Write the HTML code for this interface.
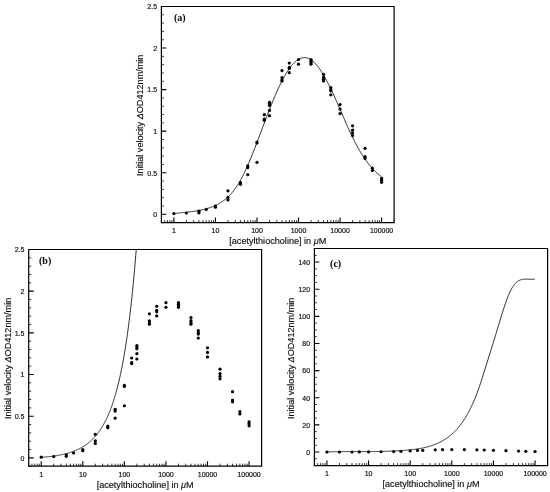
<!DOCTYPE html>
<html><head><meta charset="utf-8"><style>
html,body{margin:0;padding:0;background:#fff;}
svg{display:block;filter:blur(0.3px);}
.tl{font-family:"Liberation Sans",sans-serif;font-size:7px;fill:#111;stroke:#111;stroke-width:0.18px;}
.at{font-family:"Liberation Sans",sans-serif;font-size:9.1px;fill:#111;stroke:#111;stroke-width:0.15px;}
.pl{font-family:"Liberation Serif",serif;font-size:10px;font-weight:bold;fill:#000;}
</style></head><body>
<svg width="550" height="492" viewBox="0 0 550 492">
<rect width="550" height="492" fill="#fff"/>
<path d="M161.4,6.5 H394.1 V222.6 H161.4 Z" fill="none" stroke="#000" stroke-width="1.2"/>
<path d="M161.4,214.29 h5 M161.4,172.73 h5 M161.4,131.17 h5 M161.4,89.62 h5 M161.4,48.06 h5 M161.4,6.50 h5 M173.90,222.6 v-5 M215.44,222.6 v-5 M256.98,222.6 v-5 M298.52,222.6 v-5 M340.06,222.6 v-5 M381.60,222.6 v-5" stroke="#000" stroke-width="1.1" fill="none"/>
<path d="M161.4,222.60 h2.5 M161.4,205.98 h2.5 M161.4,197.67 h2.5 M161.4,189.35 h2.5 M161.4,181.04 h2.5 M161.4,164.42 h2.5 M161.4,156.11 h2.5 M161.4,147.80 h2.5 M161.4,139.48 h2.5 M161.4,122.86 h2.5 M161.4,114.55 h2.5 M161.4,106.24 h2.5 M161.4,97.93 h2.5 M161.4,81.30 h2.5 M161.4,72.99 h2.5 M161.4,64.68 h2.5 M161.4,56.37 h2.5 M161.4,39.75 h2.5 M161.4,31.43 h2.5 M161.4,23.12 h2.5 M161.4,14.81 h2.5 M161.40,222.6 v-2.5 M164.69,222.6 v-2.5 M167.47,222.6 v-2.5 M169.88,222.6 v-2.5 M172.00,222.6 v-2.5 M186.41,222.6 v-2.5 M193.72,222.6 v-2.5 M198.91,222.6 v-2.5 M202.94,222.6 v-2.5 M206.23,222.6 v-2.5 M209.01,222.6 v-2.5 M211.42,222.6 v-2.5 M213.54,222.6 v-2.5 M227.95,222.6 v-2.5 M235.26,222.6 v-2.5 M240.45,222.6 v-2.5 M244.48,222.6 v-2.5 M247.77,222.6 v-2.5 M250.55,222.6 v-2.5 M252.96,222.6 v-2.5 M255.08,222.6 v-2.5 M269.49,222.6 v-2.5 M276.80,222.6 v-2.5 M281.99,222.6 v-2.5 M286.01,222.6 v-2.5 M289.30,222.6 v-2.5 M292.08,222.6 v-2.5 M294.49,222.6 v-2.5 M296.62,222.6 v-2.5 M311.02,222.6 v-2.5 M318.34,222.6 v-2.5 M323.53,222.6 v-2.5 M327.55,222.6 v-2.5 M330.84,222.6 v-2.5 M333.62,222.6 v-2.5 M336.03,222.6 v-2.5 M338.16,222.6 v-2.5 M352.56,222.6 v-2.5 M359.88,222.6 v-2.5 M365.07,222.6 v-2.5 M369.09,222.6 v-2.5 M372.38,222.6 v-2.5 M375.16,222.6 v-2.5 M377.57,222.6 v-2.5 M379.70,222.6 v-2.5 M394.10,222.6 v-2.5" stroke="#111" stroke-width="0.85" fill="none"/>
<text x="157.10" y="217.14" class="tl" text-anchor="end">0</text>
<text x="157.10" y="175.58" class="tl" text-anchor="end">0.5</text>
<text x="157.10" y="134.02" class="tl" text-anchor="end">1</text>
<text x="157.10" y="92.47" class="tl" text-anchor="end">1.5</text>
<text x="157.10" y="50.91" class="tl" text-anchor="end">2</text>
<text x="157.10" y="9.35" class="tl" text-anchor="end">2.5</text>
<text x="173.90" y="232.90" class="tl" text-anchor="middle">1</text>
<text x="215.44" y="232.90" class="tl" text-anchor="middle">10</text>
<text x="256.98" y="232.90" class="tl" text-anchor="middle">100</text>
<text x="298.52" y="232.90" class="tl" text-anchor="middle">1000</text>
<text x="340.06" y="232.90" class="tl" text-anchor="middle">10000</text>
<text x="381.60" y="232.90" class="tl" text-anchor="middle">100000</text>
<text x="277.75" y="244.10" class="at" text-anchor="middle">[acetylthiocholine] in <tspan font-style="italic">&#956;</tspan>M</text>
<text transform="translate(143.30,115.25) rotate(-90)" class="at" text-anchor="middle">Initial velocity <tspan font-style="italic">&#916;</tspan>OD412nm/min</text>
<text x="174.00" y="21.00" class="pl">(a)</text>
<path d="M173.60,213.70 L174.10,213.63 L174.60,213.55 L175.10,213.48 L175.60,213.42 L176.10,213.35 L176.60,213.29 L177.10,213.22 L177.60,213.16 L178.10,213.10 L178.60,213.04 L179.10,212.98 L179.60,212.92 L180.10,212.87 L180.60,212.81 L181.10,212.75 L181.60,212.70 L182.10,212.64 L182.60,212.59 L183.10,212.54 L183.60,212.48 L184.10,212.43 L184.60,212.38 L185.10,212.32 L185.60,212.27 L186.10,212.22 L186.60,212.16 L187.10,212.11 L187.60,212.05 L188.10,212.00 L188.60,211.94 L189.10,211.89 L189.60,211.83 L190.10,211.77 L190.60,211.71 L191.10,211.65 L191.60,211.59 L192.10,211.52 L192.60,211.46 L193.10,211.39 L193.60,211.32 L194.10,211.25 L194.60,211.18 L195.10,211.11 L195.60,211.03 L196.10,210.96 L196.60,210.88 L197.10,210.79 L197.60,210.71 L198.10,210.62 L198.60,210.53 L199.10,210.44 L199.60,210.35 L200.10,210.25 L200.60,210.15 L201.10,210.05 L201.60,209.94 L202.10,209.83 L202.60,209.72 L203.10,209.60 L203.60,209.48 L204.10,209.36 L204.60,209.24 L205.10,209.10 L205.60,208.97 L206.10,208.83 L206.60,208.69 L207.10,208.54 L207.60,208.39 L208.10,208.24 L208.60,208.08 L209.10,207.92 L209.60,207.75 L210.10,207.58 L210.60,207.40 L211.10,207.22 L211.60,207.03 L212.10,206.84 L212.60,206.64 L213.10,206.44 L213.60,206.23 L214.10,206.02 L214.60,205.80 L215.10,205.58 L215.60,205.35 L216.10,205.11 L216.60,204.87 L217.10,204.62 L217.60,204.37 L218.10,204.11 L218.60,203.84 L219.10,203.56 L219.60,203.27 L220.10,202.98 L220.60,202.68 L221.10,202.37 L221.60,202.04 L222.10,201.71 L222.60,201.37 L223.10,201.02 L223.60,200.66 L224.10,200.29 L224.60,199.91 L225.10,199.52 L225.60,199.11 L226.10,198.70 L226.60,198.27 L227.10,197.82 L227.60,197.37 L228.10,196.90 L228.60,196.42 L229.10,195.93 L229.60,195.42 L230.10,194.90 L230.60,194.36 L231.10,193.81 L231.60,193.24 L232.10,192.65 L232.60,192.06 L233.10,191.44 L233.60,190.81 L234.10,190.16 L234.60,189.50 L235.10,188.81 L235.60,188.11 L236.10,187.40 L236.60,186.66 L237.10,185.91 L237.60,185.13 L238.10,184.34 L238.60,183.53 L239.10,182.70 L239.60,181.85 L240.10,180.97 L240.60,180.08 L241.10,179.17 L241.60,178.24 L242.10,177.29 L242.60,176.32 L243.10,175.34 L243.60,174.33 L244.10,173.31 L244.60,172.27 L245.10,171.22 L245.60,170.15 L246.10,169.06 L246.60,167.96 L247.10,166.84 L247.60,165.71 L248.10,164.57 L248.60,163.41 L249.10,162.24 L249.60,161.05 L250.10,159.86 L250.60,158.65 L251.10,157.43 L251.60,156.20 L252.10,154.95 L252.60,153.70 L253.10,152.44 L253.60,151.17 L254.10,149.90 L254.60,148.61 L255.10,147.32 L255.60,146.02 L256.10,144.72 L256.60,143.41 L257.10,142.09 L257.60,140.77 L258.10,139.45 L258.60,138.12 L259.10,136.79 L259.60,135.46 L260.10,134.13 L260.60,132.80 L261.10,131.46 L261.60,130.13 L262.10,128.79 L262.60,127.46 L263.10,126.13 L263.60,124.80 L264.10,123.48 L264.60,122.15 L265.10,120.83 L265.60,119.52 L266.10,118.20 L266.60,116.90 L267.10,115.59 L267.60,114.30 L268.10,113.00 L268.60,111.72 L269.10,110.44 L269.60,109.17 L270.10,107.90 L270.60,106.64 L271.10,105.39 L271.60,104.15 L272.10,102.92 L272.60,101.69 L273.10,100.48 L273.60,99.27 L274.10,98.08 L274.60,96.89 L275.10,95.72 L275.60,94.56 L276.10,93.40 L276.60,92.27 L277.10,91.14 L277.60,90.03 L278.10,88.93 L278.60,87.84 L279.10,86.76 L279.60,85.71 L280.10,84.66 L280.60,83.63 L281.10,82.62 L281.60,81.62 L282.10,80.64 L282.60,79.67 L283.10,78.72 L283.60,77.79 L284.10,76.88 L284.60,75.98 L285.10,75.11 L285.60,74.25 L286.10,73.41 L286.60,72.59 L287.10,71.79 L287.60,71.01 L288.10,70.25 L288.60,69.51 L289.10,68.80 L289.60,68.10 L290.10,67.42 L290.60,66.77 L291.10,66.14 L291.60,65.53 L292.10,64.94 L292.60,64.37 L293.10,63.83 L293.60,63.30 L294.10,62.80 L294.60,62.32 L295.10,61.87 L295.60,61.43 L296.10,61.02 L296.60,60.63 L297.10,60.27 L297.60,59.93 L298.10,59.61 L298.60,59.31 L299.10,59.04 L299.60,58.79 L300.10,58.57 L300.60,58.36 L301.10,58.19 L301.60,58.03 L302.10,57.90 L302.60,57.80 L303.10,57.72 L303.60,57.66 L304.10,57.63 L304.60,57.62 L305.10,57.64 L305.60,57.69 L306.10,57.75 L306.60,57.85 L307.10,57.97 L307.60,58.11 L308.10,58.28 L308.60,58.48 L309.10,58.70 L309.60,58.95 L310.10,59.22 L310.60,59.52 L311.10,59.84 L311.60,60.19 L312.10,60.57 L312.60,60.97 L313.10,61.39 L313.60,61.84 L314.10,62.31 L314.60,62.80 L315.10,63.31 L315.60,63.85 L316.10,64.41 L316.60,64.99 L317.10,65.59 L317.60,66.21 L318.10,66.86 L318.60,67.52 L319.10,68.20 L319.60,68.90 L320.10,69.62 L320.60,70.36 L321.10,71.11 L321.60,71.88 L322.10,72.68 L322.60,73.48 L323.10,74.31 L323.60,75.15 L324.10,76.00 L324.60,76.88 L325.10,77.76 L325.60,78.66 L326.10,79.58 L326.60,80.51 L327.10,81.45 L327.60,82.41 L328.10,83.38 L328.60,84.36 L329.10,85.36 L329.60,86.36 L330.10,87.38 L330.60,88.41 L331.10,89.45 L331.60,90.50 L332.10,91.56 L332.60,92.63 L333.10,93.70 L333.60,94.79 L334.10,95.88 L334.60,96.98 L335.10,98.08 L335.60,99.20 L336.10,100.32 L336.60,101.44 L337.10,102.57 L337.60,103.70 L338.10,104.84 L338.60,105.98 L339.10,107.12 L339.60,108.26 L340.10,109.41 L340.60,110.56 L341.10,111.71 L341.60,112.86 L342.10,114.01 L342.60,115.16 L343.10,116.31 L343.60,117.45 L344.10,118.60 L344.60,119.74 L345.10,120.88 L345.60,122.02 L346.10,123.15 L346.60,124.28 L347.10,125.40 L347.60,126.52 L348.10,127.63 L348.60,128.74 L349.10,129.84 L349.60,130.93 L350.10,132.02 L350.60,133.09 L351.10,134.16 L351.60,135.22 L352.10,136.27 L352.60,137.31 L353.10,138.34 L353.60,139.36 L354.10,140.37 L354.60,141.36 L355.10,142.34 L355.60,143.31 L356.10,144.27 L356.60,145.21 L357.10,146.14 L357.60,147.06 L358.10,147.96 L358.60,148.85 L359.10,149.72 L359.60,150.58 L360.10,151.43 L360.60,152.26 L361.10,153.09 L361.60,153.89 L362.10,154.69 L362.60,155.47 L363.10,156.24 L363.60,157.00 L364.10,157.75 L364.60,158.48 L365.10,159.20 L365.60,159.91 L366.10,160.61 L366.60,161.29 L367.10,161.96 L367.60,162.62 L368.10,163.27 L368.60,163.91 L369.10,164.54 L369.60,165.15 L370.10,165.76 L370.60,166.35 L371.10,166.93 L371.60,167.50 L372.10,168.06 L372.60,168.61 L373.10,169.15 L373.60,169.68 L374.10,170.19 L374.60,170.70 L375.10,171.20 L375.60,171.69 L376.10,172.16 L376.60,172.63 L377.10,173.09 L377.60,173.53 L378.10,173.97 L378.60,174.40 L379.10,174.82 L379.60,175.23 L380.10,175.63 L380.60,176.02 L381.10,176.40 L381.60,176.77" fill="none" stroke="#111" stroke-width="0.9"/>
<g fill="#000"><circle cx="173.90" cy="213.60" r="1.6"/>
<circle cx="186.41" cy="213.00" r="1.6"/>
<circle cx="198.91" cy="211.20" r="1.6"/>
<circle cx="198.91" cy="212.80" r="1.6"/>
<circle cx="206.23" cy="209.40" r="1.6"/>
<circle cx="215.44" cy="206.00" r="1.6"/>
<circle cx="215.44" cy="207.20" r="1.6"/>
<circle cx="227.95" cy="190.80" r="1.6"/>
<circle cx="227.95" cy="197.30" r="1.6"/>
<circle cx="227.95" cy="199.90" r="1.6"/>
<circle cx="240.45" cy="182.70" r="1.6"/>
<circle cx="240.45" cy="184.30" r="1.6"/>
<circle cx="247.77" cy="165.80" r="1.6"/>
<circle cx="247.77" cy="167.60" r="1.6"/>
<circle cx="247.77" cy="174.70" r="1.6"/>
<circle cx="256.98" cy="142.00" r="1.6"/>
<circle cx="256.98" cy="143.00" r="1.6"/>
<circle cx="256.98" cy="162.30" r="1.6"/>
<circle cx="264.30" cy="114.70" r="1.6"/>
<circle cx="264.30" cy="119.20" r="1.6"/>
<circle cx="264.30" cy="120.30" r="1.6"/>
<circle cx="269.49" cy="102.30" r="1.6"/>
<circle cx="269.49" cy="103.80" r="1.6"/>
<circle cx="269.49" cy="105.50" r="1.6"/>
<circle cx="269.49" cy="110.40" r="1.6"/>
<circle cx="269.49" cy="115.70" r="1.6"/>
<circle cx="281.99" cy="70.60" r="1.6"/>
<circle cx="281.99" cy="77.60" r="1.6"/>
<circle cx="281.99" cy="79.90" r="1.6"/>
<circle cx="281.99" cy="81.00" r="1.6"/>
<circle cx="289.30" cy="63.10" r="1.6"/>
<circle cx="289.30" cy="67.30" r="1.6"/>
<circle cx="289.30" cy="68.50" r="1.6"/>
<circle cx="289.30" cy="72.70" r="1.6"/>
<circle cx="298.52" cy="59.50" r="1.6"/>
<circle cx="298.52" cy="64.20" r="1.6"/>
<circle cx="311.02" cy="59.50" r="1.6"/>
<circle cx="311.02" cy="61.20" r="1.6"/>
<circle cx="311.02" cy="62.80" r="1.6"/>
<circle cx="311.02" cy="64.20" r="1.6"/>
<circle cx="323.53" cy="74.30" r="1.6"/>
<circle cx="323.53" cy="77.40" r="1.6"/>
<circle cx="323.53" cy="79.30" r="1.6"/>
<circle cx="323.53" cy="81.00" r="1.6"/>
<circle cx="330.84" cy="87.50" r="1.6"/>
<circle cx="330.84" cy="89.50" r="1.6"/>
<circle cx="330.84" cy="90.80" r="1.6"/>
<circle cx="330.84" cy="94.80" r="1.6"/>
<circle cx="340.06" cy="104.60" r="1.6"/>
<circle cx="340.06" cy="109.10" r="1.6"/>
<circle cx="340.06" cy="113.60" r="1.6"/>
<circle cx="352.56" cy="125.80" r="1.6"/>
<circle cx="352.56" cy="130.20" r="1.6"/>
<circle cx="352.56" cy="133.00" r="1.6"/>
<circle cx="352.56" cy="135.50" r="1.6"/>
<circle cx="365.07" cy="148.30" r="1.6"/>
<circle cx="365.07" cy="156.70" r="1.6"/>
<circle cx="365.07" cy="158.40" r="1.6"/>
<circle cx="372.38" cy="168.20" r="1.6"/>
<circle cx="372.38" cy="170.50" r="1.6"/>
<circle cx="381.60" cy="178.30" r="1.6"/>
<circle cx="381.60" cy="180.20" r="1.6"/>
<circle cx="381.60" cy="182.30" r="1.6"/></g>
<path d="M28.7,249.5 H261.6 V466.2 H28.7 Z" fill="none" stroke="#000" stroke-width="1.2"/>
<path d="M28.7,457.87 h5 M28.7,416.19 h5 M28.7,374.52 h5 M28.7,332.85 h5 M28.7,291.17 h5 M28.7,249.50 h5 M41.22,466.2 v-5 M82.79,466.2 v-5 M124.36,466.2 v-5 M165.94,466.2 v-5 M207.51,466.2 v-5 M249.08,466.2 v-5" stroke="#000" stroke-width="1.1" fill="none"/>
<path d="M28.7,466.20 h2.5 M28.7,449.53 h2.5 M28.7,441.20 h2.5 M28.7,432.86 h2.5 M28.7,424.53 h2.5 M28.7,407.86 h2.5 M28.7,399.52 h2.5 M28.7,391.19 h2.5 M28.7,382.85 h2.5 M28.7,366.18 h2.5 M28.7,357.85 h2.5 M28.7,349.52 h2.5 M28.7,341.18 h2.5 M28.7,324.51 h2.5 M28.7,316.18 h2.5 M28.7,307.84 h2.5 M28.7,299.51 h2.5 M28.7,282.84 h2.5 M28.7,274.50 h2.5 M28.7,266.17 h2.5 M28.7,257.83 h2.5 M28.70,466.2 v-2.5 M31.99,466.2 v-2.5 M34.78,466.2 v-2.5 M37.19,466.2 v-2.5 M39.31,466.2 v-2.5 M53.73,466.2 v-2.5 M61.05,466.2 v-2.5 M66.25,466.2 v-2.5 M70.27,466.2 v-2.5 M73.57,466.2 v-2.5 M76.35,466.2 v-2.5 M78.76,466.2 v-2.5 M80.89,466.2 v-2.5 M95.30,466.2 v-2.5 M102.62,466.2 v-2.5 M107.82,466.2 v-2.5 M111.85,466.2 v-2.5 M115.14,466.2 v-2.5 M117.92,466.2 v-2.5 M120.33,466.2 v-2.5 M122.46,466.2 v-2.5 M136.88,466.2 v-2.5 M144.20,466.2 v-2.5 M149.39,466.2 v-2.5 M153.42,466.2 v-2.5 M156.71,466.2 v-2.5 M159.50,466.2 v-2.5 M161.91,466.2 v-2.5 M164.03,466.2 v-2.5 M178.45,466.2 v-2.5 M185.77,466.2 v-2.5 M190.97,466.2 v-2.5 M195.00,466.2 v-2.5 M198.29,466.2 v-2.5 M201.07,466.2 v-2.5 M203.48,466.2 v-2.5 M205.61,466.2 v-2.5 M220.03,466.2 v-2.5 M227.35,466.2 v-2.5 M232.54,466.2 v-2.5 M236.57,466.2 v-2.5 M239.86,466.2 v-2.5 M242.65,466.2 v-2.5 M245.06,466.2 v-2.5 M247.18,466.2 v-2.5 M261.60,466.2 v-2.5" stroke="#111" stroke-width="0.85" fill="none"/>
<text x="24.40" y="460.72" class="tl" text-anchor="end">0</text>
<text x="24.40" y="419.04" class="tl" text-anchor="end">0.5</text>
<text x="24.40" y="377.37" class="tl" text-anchor="end">1</text>
<text x="24.40" y="335.70" class="tl" text-anchor="end">1.5</text>
<text x="24.40" y="294.02" class="tl" text-anchor="end">2</text>
<text x="24.40" y="252.35" class="tl" text-anchor="end">2.5</text>
<text x="41.22" y="476.50" class="tl" text-anchor="middle">1</text>
<text x="82.79" y="476.50" class="tl" text-anchor="middle">10</text>
<text x="124.36" y="476.50" class="tl" text-anchor="middle">100</text>
<text x="165.94" y="476.50" class="tl" text-anchor="middle">1000</text>
<text x="207.51" y="476.50" class="tl" text-anchor="middle">10000</text>
<text x="249.08" y="476.50" class="tl" text-anchor="middle">100000</text>
<text x="145.15" y="487.70" class="at" text-anchor="middle">[acetylthiocholine] in <tspan font-style="italic">&#956;</tspan>M</text>
<text transform="translate(10.70,358.45) rotate(-90)" class="at" text-anchor="middle">Initial velocity <tspan font-style="italic">&#916;</tspan>OD412nm/min</text>
<text x="39.00" y="264.10" class="pl">(b)</text>
<path d="M41.22,457.33 L41.47,457.32 L41.72,457.30 L41.97,457.28 L42.22,457.26 L42.47,457.24 L42.72,457.22 L42.97,457.20 L43.22,457.18 L43.47,457.16 L43.72,457.14 L43.97,457.12 L44.22,457.10 L44.47,457.08 L44.72,457.06 L44.97,457.04 L45.22,457.02 L45.47,456.99 L45.72,456.97 L45.97,456.95 L46.22,456.92 L46.47,456.90 L46.72,456.88 L46.97,456.85 L47.22,456.83 L47.47,456.80 L47.72,456.78 L47.97,456.75 L48.22,456.73 L48.47,456.70 L48.72,456.67 L48.97,456.65 L49.22,456.62 L49.47,456.59 L49.72,456.56 L49.97,456.54 L50.22,456.51 L50.47,456.48 L50.72,456.45 L50.97,456.42 L51.22,456.39 L51.47,456.36 L51.72,456.33 L51.97,456.29 L52.22,456.26 L52.47,456.23 L52.72,456.20 L52.97,456.16 L53.22,456.13 L53.47,456.10 L53.72,456.06 L53.97,456.03 L54.22,455.99 L54.47,455.96 L54.72,455.92 L54.97,455.88 L55.22,455.84 L55.47,455.81 L55.72,455.77 L55.97,455.73 L56.22,455.69 L56.47,455.65 L56.72,455.61 L56.97,455.57 L57.22,455.53 L57.47,455.49 L57.72,455.44 L57.97,455.40 L58.22,455.36 L58.47,455.31 L58.72,455.27 L58.97,455.22 L59.22,455.18 L59.47,455.13 L59.72,455.08 L59.97,455.04 L60.22,454.99 L60.47,454.94 L60.72,454.89 L60.97,454.84 L61.22,454.79 L61.47,454.74 L61.72,454.69 L61.97,454.63 L62.22,454.58 L62.47,454.53 L62.72,454.47 L62.97,454.42 L63.22,454.36 L63.47,454.30 L63.72,454.24 L63.97,454.19 L64.22,454.13 L64.47,454.07 L64.72,454.01 L64.97,453.95 L65.22,453.88 L65.47,453.82 L65.72,453.76 L65.97,453.69 L66.22,453.63 L66.47,453.56 L66.72,453.49 L66.97,453.43 L67.22,453.36 L67.47,453.29 L67.72,453.22 L67.97,453.15 L68.22,453.07 L68.47,453.00 L68.72,452.93 L68.97,452.85 L69.22,452.78 L69.47,452.70 L69.72,452.62 L69.97,452.54 L70.22,452.46 L70.47,452.38 L70.72,452.30 L70.97,452.22 L71.22,452.13 L71.47,452.05 L71.72,451.96 L71.97,451.88 L72.22,451.79 L72.47,451.70 L72.72,451.61 L72.97,451.52 L73.22,451.42 L73.47,451.33 L73.72,451.24 L73.97,451.14 L74.22,451.04 L74.47,450.94 L74.72,450.84 L74.97,450.74 L75.22,450.64 L75.47,450.54 L75.72,450.43 L75.97,450.33 L76.22,450.22 L76.47,450.11 L76.72,450.00 L76.97,449.89 L77.22,449.77 L77.47,449.66 L77.72,449.54 L77.97,449.43 L78.22,449.31 L78.47,449.19 L78.72,449.06 L78.97,448.94 L79.22,448.82 L79.47,448.69 L79.72,448.56 L79.97,448.43 L80.22,448.30 L80.47,448.17 L80.72,448.03 L80.97,447.90 L81.22,447.76 L81.47,447.62 L81.72,447.48 L81.97,447.33 L82.22,447.19 L82.47,447.04 L82.72,446.89 L82.97,446.74 L83.22,446.59 L83.47,446.43 L83.72,446.28 L83.97,446.12 L84.22,445.96 L84.47,445.79 L84.72,445.63 L84.97,445.46 L85.22,445.29 L85.47,445.12 L85.72,444.95 L85.97,444.77 L86.22,444.59 L86.47,444.41 L86.72,444.23 L86.97,444.05 L87.22,443.86 L87.47,443.67 L87.72,443.48 L87.97,443.28 L88.22,443.09 L88.47,442.89 L88.72,442.68 L88.97,442.48 L89.22,442.27 L89.47,442.06 L89.72,441.85 L89.97,441.63 L90.22,441.42 L90.47,441.20 L90.72,440.97 L90.97,440.74 L91.22,440.51 L91.47,440.28 L91.72,440.05 L91.97,439.81 L92.22,439.57 L92.47,439.32 L92.72,439.07 L92.97,438.82 L93.22,438.57 L93.47,438.31 L93.72,438.05 L93.97,437.78 L94.22,437.51 L94.47,437.24 L94.72,436.97 L94.97,436.69 L95.22,436.40 L95.47,436.12 L95.72,435.83 L95.97,435.53 L96.22,435.24 L96.47,434.93 L96.72,434.63 L96.97,434.32 L97.22,434.00 L97.47,433.69 L97.72,433.36 L97.97,433.04 L98.22,432.71 L98.47,432.37 L98.72,432.03 L98.97,431.69 L99.22,431.34 L99.47,430.98 L99.72,430.63 L99.97,430.26 L100.22,429.89 L100.47,429.52 L100.72,429.14 L100.97,428.76 L101.22,428.37 L101.47,427.98 L101.72,427.58 L101.97,427.17 L102.22,426.76 L102.47,426.35 L102.72,425.93 L102.97,425.50 L103.22,425.07 L103.47,424.63 L103.72,424.19 L103.97,423.74 L104.22,423.28 L104.47,422.82 L104.72,422.35 L104.97,421.87 L105.22,421.39 L105.47,420.90 L105.72,420.40 L105.97,419.90 L106.22,419.39 L106.47,418.87 L106.72,418.35 L106.97,417.82 L107.22,417.28 L107.47,416.73 L107.72,416.18 L107.97,415.62 L108.22,415.05 L108.47,414.47 L108.72,413.89 L108.97,413.29 L109.22,412.69 L109.47,412.08 L109.72,411.46 L109.97,410.83 L110.22,410.20 L110.47,409.55 L110.72,408.90 L110.97,408.23 L111.22,407.56 L111.47,406.87 L111.72,406.18 L111.97,405.48 L112.22,404.77 L112.47,404.04 L112.72,403.31 L112.97,402.56 L113.22,401.81 L113.47,401.04 L113.72,400.27 L113.97,399.48 L114.22,398.68 L114.47,397.87 L114.72,397.04 L114.97,396.21 L115.22,395.36 L115.47,394.50 L115.72,393.63 L115.97,392.74 L116.22,391.85 L116.47,390.93 L116.72,390.01 L116.97,389.07 L117.22,388.12 L117.47,387.15 L117.72,386.17 L117.97,385.18 L118.22,384.17 L118.47,383.14 L118.72,382.10 L118.97,381.04 L119.22,379.97 L119.47,378.89 L119.72,377.78 L119.97,376.66 L120.22,375.52 L120.47,374.37 L120.72,373.19 L120.97,372.00 L121.22,370.80 L121.47,369.57 L121.72,368.32 L121.97,367.06 L122.22,365.78 L122.47,364.47 L122.72,363.15 L122.97,361.81 L123.22,360.44 L123.47,359.06 L123.72,357.65 L123.97,356.22 L124.22,354.77 L124.47,353.30 L124.72,351.80 L124.97,350.28 L125.22,348.74 L125.47,347.17 L125.72,345.58 L125.97,343.96 L126.22,342.32 L126.47,340.65 L126.72,338.96 L126.97,337.24 L127.22,335.49 L127.47,333.72 L127.72,331.91 L127.97,330.08 L128.22,328.22 L128.47,326.33 L128.72,324.40 L128.97,322.45 L129.22,320.47 L129.47,318.45 L129.72,316.40 L129.97,314.32 L130.22,312.21 L130.47,310.06 L130.72,307.87 L130.97,305.65 L131.22,303.40 L131.47,301.10 L131.72,298.77 L131.97,296.41 L132.22,294.00 L132.47,291.55 L132.72,289.06 L132.97,286.54 L133.22,283.97 L133.47,281.35 L133.72,278.70 L133.97,276.00 L134.22,273.25 L134.47,270.46 L134.72,267.63 L134.97,264.74 L135.22,261.81 L135.47,258.83 L135.72,255.79 L135.97,252.71 L136.22,249.57 L136.22,249.50" fill="none" stroke="#111" stroke-width="0.9"/>
<g fill="#000"><circle cx="41.22" cy="457.18" r="1.6"/>
<circle cx="53.73" cy="456.57" r="1.6"/>
<circle cx="66.25" cy="454.77" r="1.6"/>
<circle cx="66.25" cy="456.37" r="1.6"/>
<circle cx="73.57" cy="452.96" r="1.6"/>
<circle cx="82.79" cy="449.55" r="1.6"/>
<circle cx="82.79" cy="450.76" r="1.6"/>
<circle cx="95.30" cy="434.31" r="1.6"/>
<circle cx="95.30" cy="440.83" r="1.6"/>
<circle cx="95.30" cy="443.44" r="1.6"/>
<circle cx="107.82" cy="426.19" r="1.6"/>
<circle cx="107.82" cy="427.79" r="1.6"/>
<circle cx="115.14" cy="409.24" r="1.6"/>
<circle cx="115.14" cy="411.05" r="1.6"/>
<circle cx="115.14" cy="418.17" r="1.6"/>
<circle cx="124.36" cy="385.38" r="1.6"/>
<circle cx="124.36" cy="386.38" r="1.6"/>
<circle cx="124.36" cy="405.73" r="1.6"/>
<circle cx="131.68" cy="358.00" r="1.6"/>
<circle cx="131.68" cy="362.51" r="1.6"/>
<circle cx="131.68" cy="363.62" r="1.6"/>
<circle cx="136.88" cy="345.57" r="1.6"/>
<circle cx="136.88" cy="347.07" r="1.6"/>
<circle cx="136.88" cy="348.77" r="1.6"/>
<circle cx="136.88" cy="353.69" r="1.6"/>
<circle cx="136.88" cy="359.00" r="1.6"/>
<circle cx="149.39" cy="313.78" r="1.6"/>
<circle cx="149.39" cy="320.80" r="1.6"/>
<circle cx="149.39" cy="323.10" r="1.6"/>
<circle cx="149.39" cy="324.21" r="1.6"/>
<circle cx="156.71" cy="306.26" r="1.6"/>
<circle cx="156.71" cy="310.47" r="1.6"/>
<circle cx="156.71" cy="311.67" r="1.6"/>
<circle cx="156.71" cy="315.88" r="1.6"/>
<circle cx="165.94" cy="302.65" r="1.6"/>
<circle cx="165.94" cy="307.36" r="1.6"/>
<circle cx="178.45" cy="302.65" r="1.6"/>
<circle cx="178.45" cy="304.35" r="1.6"/>
<circle cx="178.45" cy="305.96" r="1.6"/>
<circle cx="178.45" cy="307.36" r="1.6"/>
<circle cx="190.97" cy="317.49" r="1.6"/>
<circle cx="190.97" cy="320.60" r="1.6"/>
<circle cx="190.97" cy="322.50" r="1.6"/>
<circle cx="190.97" cy="324.21" r="1.6"/>
<circle cx="198.29" cy="330.72" r="1.6"/>
<circle cx="198.29" cy="332.73" r="1.6"/>
<circle cx="198.29" cy="334.03" r="1.6"/>
<circle cx="198.29" cy="338.05" r="1.6"/>
<circle cx="207.51" cy="347.87" r="1.6"/>
<circle cx="207.51" cy="352.38" r="1.6"/>
<circle cx="207.51" cy="356.90" r="1.6"/>
<circle cx="220.03" cy="369.13" r="1.6"/>
<circle cx="220.03" cy="373.54" r="1.6"/>
<circle cx="220.03" cy="376.35" r="1.6"/>
<circle cx="220.03" cy="378.86" r="1.6"/>
<circle cx="232.54" cy="391.69" r="1.6"/>
<circle cx="232.54" cy="400.12" r="1.6"/>
<circle cx="232.54" cy="401.82" r="1.6"/>
<circle cx="239.86" cy="411.65" r="1.6"/>
<circle cx="239.86" cy="413.96" r="1.6"/>
<circle cx="249.08" cy="421.78" r="1.6"/>
<circle cx="249.08" cy="423.68" r="1.6"/>
<circle cx="249.08" cy="425.79" r="1.6"/></g>
<path d="M314.4,248.5 H547.6 V465.6 H314.4 Z" fill="none" stroke="#000" stroke-width="1.2"/>
<path d="M314.4,452.03 h5 M314.4,424.89 h5 M314.4,397.76 h5 M314.4,370.62 h5 M314.4,343.48 h5 M314.4,316.34 h5 M314.4,289.21 h5 M314.4,262.07 h5 M326.93,465.6 v-5 M368.56,465.6 v-5 M410.19,465.6 v-5 M451.81,465.6 v-5 M493.44,465.6 v-5 M535.07,465.6 v-5" stroke="#000" stroke-width="1.1" fill="none"/>
<path d="M314.4,465.60 h2.5 M314.4,458.82 h2.5 M314.4,445.25 h2.5 M314.4,438.46 h2.5 M314.4,431.68 h2.5 M314.4,418.11 h2.5 M314.4,411.33 h2.5 M314.4,404.54 h2.5 M314.4,390.97 h2.5 M314.4,384.19 h2.5 M314.4,377.40 h2.5 M314.4,363.83 h2.5 M314.4,357.05 h2.5 M314.4,350.27 h2.5 M314.4,336.70 h2.5 M314.4,329.91 h2.5 M314.4,323.13 h2.5 M314.4,309.56 h2.5 M314.4,302.77 h2.5 M314.4,295.99 h2.5 M314.4,282.42 h2.5 M314.4,275.64 h2.5 M314.4,268.85 h2.5 M314.4,255.28 h2.5 M314.4,248.50 h2.5 M314.40,465.6 v-2.5 M317.70,465.6 v-2.5 M320.48,465.6 v-2.5 M322.90,465.6 v-2.5 M325.03,465.6 v-2.5 M339.46,465.6 v-2.5 M346.79,465.6 v-2.5 M351.99,465.6 v-2.5 M356.03,465.6 v-2.5 M359.32,465.6 v-2.5 M362.11,465.6 v-2.5 M364.52,465.6 v-2.5 M366.65,465.6 v-2.5 M381.09,465.6 v-2.5 M388.42,465.6 v-2.5 M393.62,465.6 v-2.5 M397.66,465.6 v-2.5 M400.95,465.6 v-2.5 M403.74,465.6 v-2.5 M406.15,465.6 v-2.5 M408.28,465.6 v-2.5 M422.72,465.6 v-2.5 M430.05,465.6 v-2.5 M435.25,465.6 v-2.5 M439.28,465.6 v-2.5 M442.58,465.6 v-2.5 M445.37,465.6 v-2.5 M447.78,465.6 v-2.5 M449.91,465.6 v-2.5 M464.34,465.6 v-2.5 M471.68,465.6 v-2.5 M476.88,465.6 v-2.5 M480.91,465.6 v-2.5 M484.21,465.6 v-2.5 M486.99,465.6 v-2.5 M489.41,465.6 v-2.5 M491.54,465.6 v-2.5 M505.97,465.6 v-2.5 M513.30,465.6 v-2.5 M518.50,465.6 v-2.5 M522.54,465.6 v-2.5 M525.83,465.6 v-2.5 M528.62,465.6 v-2.5 M531.03,465.6 v-2.5 M533.16,465.6 v-2.5 M547.60,465.6 v-2.5" stroke="#111" stroke-width="0.85" fill="none"/>
<text x="310.10" y="454.88" class="tl" text-anchor="end">0</text>
<text x="310.10" y="427.74" class="tl" text-anchor="end">20</text>
<text x="310.10" y="400.61" class="tl" text-anchor="end">40</text>
<text x="310.10" y="373.47" class="tl" text-anchor="end">60</text>
<text x="310.10" y="346.33" class="tl" text-anchor="end">80</text>
<text x="310.10" y="319.19" class="tl" text-anchor="end">100</text>
<text x="310.10" y="292.06" class="tl" text-anchor="end">120</text>
<text x="310.10" y="264.92" class="tl" text-anchor="end">140</text>
<text x="326.93" y="475.90" class="tl" text-anchor="middle">1</text>
<text x="368.56" y="475.90" class="tl" text-anchor="middle">10</text>
<text x="410.19" y="475.90" class="tl" text-anchor="middle">100</text>
<text x="451.81" y="475.90" class="tl" text-anchor="middle">1000</text>
<text x="493.44" y="475.90" class="tl" text-anchor="middle">10000</text>
<text x="535.07" y="475.90" class="tl" text-anchor="middle">100000</text>
<text x="431.00" y="487.10" class="at" text-anchor="middle">[acetylthiocholine] in <tspan font-style="italic">&#956;</tspan>M</text>
<text transform="translate(294.30,358.35) rotate(-90)" class="at" text-anchor="middle">Initial velocity <tspan font-style="italic">&#916;</tspan>OD412nm/min</text>
<text x="330.10" y="267.40" class="pl">(c)</text>
<path d="M326.90,451.92 L327.40,451.90 L327.90,451.89 L328.40,451.87 L328.90,451.86 L329.40,451.84 L329.90,451.83 L330.40,451.81 L330.90,451.80 L331.40,451.79 L331.90,451.78 L332.40,451.76 L332.90,451.75 L333.40,451.74 L333.90,451.73 L334.40,451.72 L334.90,451.71 L335.40,451.70 L335.90,451.69 L336.40,451.69 L336.90,451.68 L337.40,451.67 L337.90,451.66 L338.40,451.66 L338.90,451.65 L339.40,451.64 L339.90,451.64 L340.40,451.63 L340.90,451.63 L341.40,451.62 L341.90,451.62 L342.40,451.62 L342.90,451.61 L343.40,451.61 L343.90,451.61 L344.40,451.60 L344.90,451.60 L345.40,451.60 L345.90,451.59 L346.40,451.59 L346.90,451.59 L347.40,451.59 L347.90,451.59 L348.40,451.59 L348.90,451.58 L349.40,451.58 L349.90,451.58 L350.40,451.58 L350.90,451.58 L351.40,451.58 L351.90,451.58 L352.40,451.58 L352.90,451.58 L353.40,451.58 L353.90,451.58 L354.40,451.58 L354.90,451.58 L355.40,451.58 L355.90,451.58 L356.40,451.58 L356.90,451.58 L357.40,451.58 L357.90,451.58 L358.40,451.58 L358.90,451.58 L359.40,451.58 L359.90,451.58 L360.40,451.58 L360.90,451.58 L361.40,451.58 L361.90,451.58 L362.40,451.58 L362.90,451.58 L363.40,451.58 L363.90,451.58 L364.40,451.58 L364.90,451.58 L365.40,451.58 L365.90,451.58 L366.40,451.58 L366.90,451.58 L367.40,451.58 L367.90,451.58 L368.40,451.57 L368.90,451.57 L369.40,451.57 L369.90,451.57 L370.40,451.56 L370.90,451.56 L371.40,451.56 L371.90,451.56 L372.40,451.55 L372.90,451.55 L373.40,451.54 L373.90,451.54 L374.40,451.53 L374.90,451.53 L375.40,451.52 L375.90,451.52 L376.40,451.51 L376.90,451.51 L377.40,451.50 L377.90,451.49 L378.40,451.48 L378.90,451.48 L379.40,451.47 L379.90,451.46 L380.40,451.45 L380.90,451.44 L381.40,451.43 L381.90,451.42 L382.40,451.41 L382.90,451.40 L383.40,451.39 L383.90,451.37 L384.40,451.36 L384.90,451.35 L385.40,451.33 L385.90,451.32 L386.40,451.30 L386.90,451.29 L387.40,451.27 L387.90,451.26 L388.40,451.24 L388.90,451.22 L389.40,451.20 L389.90,451.18 L390.40,451.17 L390.90,451.15 L391.40,451.12 L391.90,451.10 L392.40,451.08 L392.90,451.06 L393.40,451.04 L393.90,451.01 L394.40,450.99 L394.90,450.96 L395.40,450.94 L395.90,450.91 L396.40,450.88 L396.90,450.85 L397.40,450.82 L397.90,450.80 L398.40,450.76 L398.90,450.73 L399.40,450.70 L399.90,450.67 L400.40,450.64 L400.90,450.60 L401.40,450.57 L401.90,450.53 L402.40,450.49 L402.90,450.46 L403.40,450.42 L403.90,450.38 L404.40,450.34 L404.90,450.30 L405.40,450.26 L405.90,450.21 L406.40,450.17 L406.90,450.13 L407.40,450.08 L407.90,450.03 L408.40,449.99 L408.90,449.94 L409.40,449.89 L409.90,449.84 L410.40,449.79 L410.90,449.73 L411.40,449.68 L411.90,449.63 L412.40,449.57 L412.90,449.51 L413.40,449.46 L413.90,449.40 L414.40,449.33 L414.90,449.27 L415.40,449.21 L415.90,449.14 L416.40,449.07 L416.90,449.00 L417.40,448.93 L417.90,448.85 L418.40,448.78 L418.90,448.70 L419.40,448.62 L419.90,448.53 L420.40,448.45 L420.90,448.36 L421.40,448.26 L421.90,448.17 L422.40,448.07 L422.90,447.97 L423.40,447.87 L423.90,447.76 L424.40,447.65 L424.90,447.54 L425.40,447.42 L425.90,447.30 L426.40,447.18 L426.90,447.05 L427.40,446.92 L427.90,446.78 L428.40,446.64 L428.90,446.50 L429.40,446.35 L429.90,446.20 L430.40,446.05 L430.90,445.89 L431.40,445.72 L431.90,445.56 L432.40,445.38 L432.90,445.21 L433.40,445.02 L433.90,444.84 L434.40,444.65 L434.90,444.45 L435.40,444.25 L435.90,444.04 L436.40,443.83 L436.90,443.61 L437.40,443.39 L437.90,443.16 L438.40,442.93 L438.90,442.69 L439.40,442.45 L439.90,442.20 L440.40,441.94 L440.90,441.68 L441.40,441.41 L441.90,441.14 L442.40,440.85 L442.90,440.57 L443.40,440.28 L443.90,439.98 L444.40,439.67 L444.90,439.36 L445.40,439.04 L445.90,438.71 L446.40,438.37 L446.90,438.03 L447.40,437.68 L447.90,437.32 L448.40,436.95 L448.90,436.58 L449.40,436.19 L449.90,435.80 L450.40,435.39 L450.90,434.98 L451.40,434.55 L451.90,434.12 L452.40,433.67 L452.90,433.22 L453.40,432.75 L453.90,432.27 L454.40,431.78 L454.90,431.28 L455.40,430.77 L455.90,430.24 L456.40,429.71 L456.90,429.16 L457.40,428.59 L457.90,428.02 L458.40,427.43 L458.90,426.82 L459.40,426.21 L459.90,425.57 L460.40,424.93 L460.90,424.27 L461.40,423.59 L461.90,422.90 L462.40,422.20 L462.90,421.48 L463.40,420.74 L463.90,419.99 L464.40,419.22 L464.90,418.43 L465.40,417.63 L465.90,416.81 L466.40,415.97 L466.90,415.11 L467.40,414.24 L467.90,413.34 L468.40,412.43 L468.90,411.49 L469.40,410.54 L469.90,409.56 L470.40,408.56 L470.90,407.55 L471.40,406.51 L471.90,405.44 L472.40,404.36 L472.90,403.25 L473.40,402.12 L473.90,400.96 L474.40,399.78 L474.90,398.58 L475.40,397.35 L475.90,396.09 L476.40,394.81 L476.90,393.51 L477.40,392.17 L477.90,390.81 L478.40,389.42 L478.90,388.01 L479.40,386.57 L479.90,385.11 L480.40,383.63 L480.90,382.12 L481.40,380.60 L481.90,379.06 L482.40,377.51 L482.90,375.94 L483.40,374.37 L483.90,372.78 L484.40,371.18 L484.90,369.57 L485.40,367.96 L485.90,366.35 L486.40,364.73 L486.90,363.11 L487.40,361.50 L487.90,359.88 L488.40,358.27 L488.90,356.66 L489.40,355.05 L489.90,353.45 L490.40,351.84 L490.90,350.24 L491.40,348.63 L491.90,347.03 L492.40,345.42 L492.90,343.81 L493.40,342.20 L493.90,340.59 L494.40,338.97 L494.90,337.35 L495.40,335.73 L495.90,334.10 L496.40,332.46 L496.90,330.82 L497.40,329.17 L497.90,327.52 L498.40,325.86 L498.90,324.20 L499.40,322.55 L499.90,320.89 L500.40,319.24 L500.90,317.60 L501.40,315.97 L501.90,314.35 L502.40,312.75 L502.90,311.16 L503.40,309.60 L503.90,308.05 L504.40,306.53 L504.90,305.04 L505.40,303.57 L505.90,302.14 L506.40,300.74 L506.90,299.37 L507.40,298.04 L507.90,296.75 L508.40,295.51 L508.90,294.31 L509.40,293.16 L509.90,292.05 L510.40,291.00 L510.90,290.01 L511.40,289.07 L511.90,288.18 L512.40,287.35 L512.90,286.56 L513.40,285.83 L513.90,285.15 L514.40,284.51 L514.90,283.92 L515.40,283.38 L515.90,282.87 L516.40,282.41 L516.90,281.98 L517.40,281.59 L517.90,281.24 L518.40,280.92 L518.90,280.63 L519.40,280.38 L519.90,280.15 L520.40,279.95 L520.90,279.78 L521.40,279.63 L521.90,279.51 L522.40,279.40 L522.90,279.32 L523.40,279.25 L523.90,279.20 L524.40,279.17 L524.90,279.15 L525.40,279.14 L525.90,279.14 L526.40,279.14 L526.90,279.16 L527.40,279.18 L527.90,279.20 L528.40,279.23 L528.90,279.26 L529.40,279.28 L529.90,279.30 L530.40,279.32 L530.90,279.33 L531.40,279.34 L531.90,279.33 L532.40,279.32 L532.90,279.29 L533.40,279.25 L533.90,279.19 L534.40,279.12 L534.90,279.10" fill="none" stroke="#111" stroke-width="0.9"/>
<g fill="#000"><circle cx="326.93" cy="452.02" r="1.6"/>
<circle cx="339.46" cy="452.01" r="1.6"/>
<circle cx="351.99" cy="451.99" r="1.6"/>
<circle cx="359.32" cy="451.95" r="1.6"/>
<circle cx="368.56" cy="451.91" r="1.6"/>
<circle cx="381.09" cy="451.73" r="1.6"/>
<circle cx="393.62" cy="451.53" r="1.6"/>
<circle cx="400.95" cy="451.30" r="1.6"/>
<circle cx="410.19" cy="450.97" r="1.6"/>
<circle cx="417.52" cy="450.46" r="1.6"/>
<circle cx="422.72" cy="450.29" r="1.6"/>
<circle cx="435.25" cy="449.79" r="1.6"/>
<circle cx="442.58" cy="449.64" r="1.6"/>
<circle cx="451.81" cy="449.54" r="1.6"/>
<circle cx="464.34" cy="449.54" r="1.6"/>
<circle cx="476.88" cy="449.81" r="1.6"/>
<circle cx="484.21" cy="450.01" r="1.6"/>
<circle cx="493.44" cy="450.31" r="1.6"/>
<circle cx="505.97" cy="450.67" r="1.6"/>
<circle cx="518.50" cy="451.05" r="1.6"/>
<circle cx="525.83" cy="451.30" r="1.6"/>
<circle cx="535.07" cy="451.48" r="1.6"/></g>
</svg>
</body></html>
